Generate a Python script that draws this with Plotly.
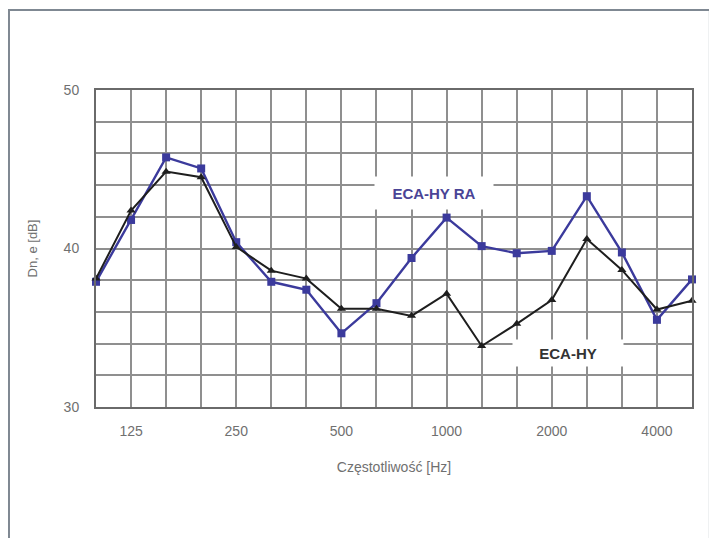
import plotly.graph_objects as go

freqs = ["100", "125", "160", "200", "250", "315", "400", "500", "630",
         "800", "1000", "1250", "1600", "2000", "2500", "3150", "4000", "5000"]
eca_hy_ra = [37.9, 41.8, 45.75, 45.05, 40.4, 37.9, 37.4, 34.65, 36.55,
             39.4, 41.95, 40.15, 39.7, 39.85, 43.3, 39.75, 35.5, 38.05]
eca_hy = [38.1, 42.4, 44.85, 44.5, 40.1, 38.6, 38.1, 36.2, 36.2,
          35.75, 37.15, 33.85, 35.25, 36.75, 40.6, 38.65, 36.15, 36.7]
labeled_ticks = ["125", "250", "500", "1000", "2000", "4000"]
y_ticks = [30, 40, 50]

FONT = "Liberation Sans, Arial, Helvetica, sans-serif"
BLUE = "#3b3a9c"
BLACK = "#1e1e1e"
GRID = "#8f8f8f"
TXT = "#707070"

fig = go.Figure()
fig.add_trace(go.Scatter(
    x=freqs, y=eca_hy_ra, mode="lines+markers", name="ECA-HY RA",
    line=dict(color=BLUE, width=2.4),
    marker=dict(symbol="square", size=8, color=BLUE),
    cliponaxis=False, showlegend=False))
fig.add_trace(go.Scatter(
    x=freqs, y=eca_hy, mode="lines+markers", name="ECA-HY",
    line=dict(color=BLACK, width=2),
    marker=dict(symbol="triangle-up", size=8, color=BLACK),
    cliponaxis=False, showlegend=False))

ticktext = [f if f in labeled_ticks else "" for f in freqs]

fig.update_xaxes(
    type="category", categoryorder="array", categoryarray=freqs,
    range=[0, len(freqs) - 1], automargin=False,
    tickmode="array", tickvals=freqs, ticktext=ticktext,
    showgrid=True, gridcolor=GRID, gridwidth=1.5,
    showline=True, linecolor="#6a6a6a", linewidth=2, mirror=True,
    ticks="", zeroline=False, ticklabelstandoff=10,
    tickfont=dict(family=FONT, size=14, color=TXT),
    title=dict(text="Częstotliwość [Hz]", standoff=24,
               font=dict(family=FONT, size=14, color=TXT)))
fig.update_yaxes(
    range=[30, 50], tickmode="array", tickvals=y_ticks, automargin=False,
    showgrid=True, gridcolor=GRID, gridwidth=1.5,
    minor=dict(dtick=2, showgrid=True, gridcolor=GRID, gridwidth=1.5),
    showline=True, linecolor="#6a6a6a", linewidth=2, mirror=True,
    ticks="", zeroline=False, ticklabelstandoff=12,
    tickfont=dict(family=FONT, size=14, color=TXT),
    title=dict(text="Dn, e [dB]", standoff=23,
               font=dict(family=FONT, size=13, color=TXT)))

fig.add_annotation(x=9.64, y=43.5, xref="x", yref="y", text="<b>ECA-HY RA</b>",
                   showarrow=False, bgcolor="white", width=116, height=30,
                   font=dict(family=FONT, size=15, color="#4a4496"))
fig.add_annotation(x=13.46, y=33.4, xref="x", yref="y", text="<b>ECA-HY</b>",
                   showarrow=False, bgcolor="white", width=108, height=24,
                   font=dict(family=FONT, size=15, color="#333333"))

# outer frame
fig.add_shape(type="rect", xref="paper", yref="paper",
              x0=-0.146, x1=1.030, y0=-0.45, y1=1.2524,
              line=dict(color="#7f8892", width=2), layer="below")

fig.update_layout(
    width=709, height=530,
    margin=dict(l=88, r=25, t=82, b=131),
    paper_bgcolor="white", plot_bgcolor="white",
    font=dict(family=FONT))

fig.write_html("out.html")
